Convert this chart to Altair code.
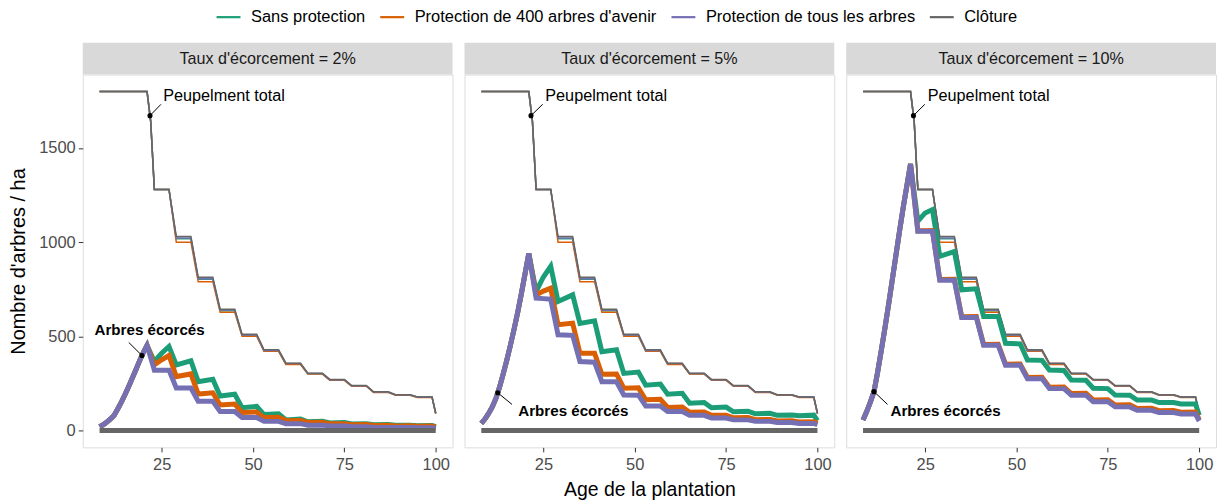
import altair as alt
import pandas as pd

# ---------------- data ----------------
SCENARIOS = ["Sans protection", "Protection de 400 arbres d'avenir",
             "Protection de tous les arbres", "Clôture"]
COLORS = ["#1B9E77", "#D95F02", "#7570B3", "#666666"]
FACETS = ["Taux d'écorcement = 2%", "Taux d'écorcement = 5%", "Taux d'écorcement = 10%"]

# total stand (thin lines), same in every panel
AGES_TOTAL = [8, 21, 22, 23, 27, 29, 33, 35, 39, 41, 45, 47, 51, 53, 57, 59, 63, 65,
              69, 71, 75, 77, 81, 83, 87, 89, 93, 95, 99, 100]
TOTAL_SANS = [1800, 1800, 1640, 1280, 1280, 1018, 1018, 803, 803, 636, 636, 505, 505, 423, 423,
              353, 353, 301, 301, 268, 268, 236, 236, 203, 203, 188, 188, 176, 176, 90]
TOTAL_400 = [1800, 1800, 1640, 1280, 1280, 1000, 1000, 790, 790, 628, 628, 500, 500, 420, 420,
             350, 350, 299, 299, 266, 266, 235, 235, 202, 202, 187, 187, 175, 175, 88]
TOTAL_TOUS = [1800, 1800, 1640, 1280, 1280, 1022, 1022, 806, 806, 639, 639, 507, 507, 425, 425,
              355, 355, 302, 302, 269, 269, 237, 237, 204, 204, 189, 189, 177, 177, 91]
TOTAL_CLOTURE = [1800, 1800, 1640, 1280, 1280, 1030, 1030, 813, 813, 644, 644, 511, 511, 428, 428,
                 357, 357, 304, 304, 271, 271, 238, 238, 205, 205, 190, 190, 178, 178, 92]

# debarked trees (thick lines)
AGES_GROWTH = [8, 9, 10, 11, 12, 13, 14, 15, 16, 17, 18, 19, 20, 21]
GROWTH_2 = [20, 30, 44, 61, 81, 115, 152, 192, 235, 280, 325, 372, 415, 452]
GROWTH_5 = [37, 60, 90, 125, 170, 230, 300, 375, 455, 540, 630, 730, 835, 940]
GROWTH_10 = [55, 100, 150, 206, 310, 425, 545, 670, 800, 930, 1060, 1185, 1300, 1415]

AGES_AFTER = [23, 25, 27, 29, 33, 35, 39, 41, 45, 47, 51, 53, 57, 59, 63, 65, 69, 71,
              75, 77, 81, 83, 87, 89, 93, 95, 99, 100]
SANS_2 = [366, 410, 446, 348, 370, 259, 272, 183, 192, 121, 128, 84, 88, 56, 60, 46, 49, 40,
          42, 34, 36, 30, 31, 27, 28, 25, 26, 20]
P400_2 = [348, 375, 398, 286, 300, 193, 200, 135, 140, 95, 98, 68, 70, 52, 53, 42, 43, 35,
          36, 30, 31, 26, 27, 24, 25, 22, 23, 16]
TOUS_2 = [320, 320, 320, 225, 225, 155, 155, 100, 100, 68, 68, 48, 48, 36, 36, 28, 28, 23,
          23, 19, 19, 16, 16, 15, 15, 14, 14, 10]
SANS_5 = [738, 815, 872, 685, 720, 568, 582, 418, 428, 303, 310, 240, 246, 192, 197, 144, 148, 120,
          124, 99, 102, 88, 91, 80, 82, 78, 81, 52]
P400_5 = [720, 740, 756, 561, 570, 410, 410, 298, 300, 224, 226, 163, 165, 122, 124, 96, 98, 80,
          81, 67, 68, 57, 58, 50, 51, 45, 46, 38]
TOUS_5 = [703, 700, 697, 508, 505, 366, 362, 259, 258, 188, 187, 130, 130, 100, 100, 80, 80, 66,
          66, 56, 56, 48, 48, 42, 42, 37, 37, 30]
SANS_10 = [1111, 1155, 1173, 925, 950, 747, 752, 605, 605, 463, 460, 374, 372, 321, 318, 268, 266, 224,
           222, 188, 187, 161, 161, 148, 148, 140, 140, 81]
P400_10 = [1060, 1061, 1062, 802, 803, 604, 605, 457, 458, 352, 353, 281, 282, 229, 230, 196, 197, 162,
           163, 135, 136, 117, 118, 105, 106, 97, 98, 58]
TOUS_10 = [1058, 1058, 1058, 798, 798, 600, 600, 452, 452, 346, 346, 274, 274, 222, 222, 187, 187, 152,
           152, 125, 125, 107, 107, 95, 95, 87, 87, 50]
AGES_CLOTURE_ECORCES = [8, 100]
CLOTURE_ECORCES = [0, 0]

GROWTH = [GROWTH_2, GROWTH_5, GROWTH_10]
AFTER = [[SANS_2, P400_2, TOUS_2], [SANS_5, P400_5, TOUS_5], [SANS_10, P400_10, TOUS_10]]
TOTALS = [TOTAL_SANS, TOTAL_400, TOTAL_TOUS, TOTAL_CLOTURE]

# annotations
LABEL_PEUP = "Peupelment total"
LABEL_ECOR = "Arbres écorcés"
PEUP_POINT_X = [21.8, 21.6, 21.8]
PEUP_POINT_Y = [1672, 1672, 1672]
PEUP_SEG_X2 = [24.8, 24.8, 24.9]
PEUP_SEG_Y2 = [1732, 1732, 1732]
PEUP_TEXT_X = [25.4, 25.5, 25.7]
PEUP_TEXT_Y = [1777, 1777, 1777]
ECOR_POINT_X = [19.6, 12.5, 11.0]
ECOR_POINT_Y = [398, 200, 206]
ECOR_SEG_X2 = [16.0, 16.4, 14.7]
ECOR_SEG_Y2 = [467, 138, 138]
ECOR_TEXT_X = [21.7, 33.2, 30.6]
ECOR_TEXT_Y = [534, 105, 105]

# ---------------- chart ----------------
W, H = 371, 374
FONT = "Liberation Sans"
xscale = alt.Scale(domain=[3.4, 104.6], nice=False, zero=False)
yscale = alt.Scale(domain=[-90, 1890], nice=False, zero=False)
cscale = alt.Scale(domain=SCENARIOS, range=COLORS)
legend = alt.Legend(orient="none", legendX=138, legendY=-66, direction="horizontal",
                    columns=4, title=None, symbolType="M-2,0H2", symbolSize=144,
                    symbolStrokeWidth=2.2, labelFontSize=16.5, labelFont=FONT,
                    labelColor="#000000", labelOffset=14.3, columnPadding=9.2,
                    labelLimit=400, padding=0)


def panel(i):
    tot_rows = []
    for s, vals in zip(SCENARIOS, TOTALS):
        for a, v in zip(AGES_TOTAL, vals):
            tot_rows.append({"age": a, "n": v, "scenario": s})
    tot = pd.DataFrame(tot_rows)

    deb_rows = []
    for s, vals in zip(SCENARIOS[:3], AFTER[i]):
        for a, v in zip(AGES_GROWTH + AGES_AFTER, GROWTH[i] + vals):
            deb_rows.append({"age": a, "n": v, "scenario": s})
    for a, v in zip(AGES_CLOTURE_ECORCES, CLOTURE_ECORCES):
        deb_rows.append({"age": a, "n": v, "scenario": SCENARIOS[3]})
    deb = pd.DataFrame(deb_rows)

    if i == 0:
        yaxis = alt.Axis(values=[0, 500, 1000, 1500], format="d", title="Nombre d'arbres / ha",
                         grid=False, domain=False, tickSize=4.5, tickColor="#333333",
                         labelFontSize=16.5, labelColor="#4D4D4D", labelFont=FONT, labelPadding=3,
                         titleFontSize=20, titleFont=FONT, titleFontWeight="normal",
                         titleColor="#000000", titlePadding=10)
    else:
        yaxis = None
    xaxis = alt.Axis(values=[25, 50, 75, 100], title="Age de la plantation" if i == 1 else None,
                     grid=False, domain=False, tickSize=4.5, tickColor="#333333",
                     labelFontSize=16.5, labelColor="#4D4D4D", labelFont=FONT, labelPadding=4.5,
                     titleFontSize=19.5, titleFont=FONT, titleFontWeight="normal",
                     titleColor="#000000", titlePadding=7.5)

    color = alt.Color("scenario:N", scale=cscale, legend=legend, sort=SCENARIOS)
    thin = alt.Chart(tot).mark_line(strokeWidth=1.5).encode(
        x=alt.X("age:Q", scale=xscale, axis=xaxis),
        y=alt.Y("n:Q", scale=yscale, axis=yaxis),
        color=color, detail="scenario:N")
    thick = alt.Chart(deb).mark_line(strokeWidth=5).encode(
        x=alt.X("age:Q", scale=xscale),
        y=alt.Y("n:Q", scale=yscale),
        color=color, detail="scenario:N")

    ann = pd.DataFrame({
        "px": [PEUP_POINT_X[i], ECOR_POINT_X[i]],
        "py": [PEUP_POINT_Y[i], ECOR_POINT_Y[i]],
        "sx": [PEUP_SEG_X2[i], ECOR_SEG_X2[i]],
        "sy": [PEUP_SEG_Y2[i], ECOR_SEG_Y2[i]],
        "tx": [PEUP_TEXT_X[i], ECOR_TEXT_X[i]],
        "ty": [PEUP_TEXT_Y[i], ECOR_TEXT_Y[i]],
        "label": [LABEL_PEUP, LABEL_ECOR],
    })
    seg = alt.Chart(ann).mark_rule(color="#000000", strokeWidth=1).encode(
        x=alt.X("px:Q", scale=xscale), y=alt.Y("py:Q", scale=yscale),
        x2="sx:Q", y2="sy:Q")
    pts = alt.Chart(ann).mark_circle(color="#000000", opacity=1, size=26).encode(
        x=alt.X("px:Q", scale=xscale), y=alt.Y("py:Q", scale=yscale))
    t1 = alt.Chart(ann.iloc[[0]]).mark_text(align="left", baseline="middle", fontSize=16.3,
                                            font=FONT, color="#000000").encode(
        x=alt.X("tx:Q", scale=xscale), y=alt.Y("ty:Q", scale=yscale), text="label:N")
    t2 = alt.Chart(ann.iloc[[1]]).mark_text(align="center", baseline="middle", fontSize=15.2,
                                            font=FONT, fontWeight="bold", color="#000000").encode(
        x=alt.X("tx:Q", scale=xscale), y=alt.Y("ty:Q", scale=yscale), text="label:N")

    strip_df = pd.DataFrame({"label": [FACETS[i]]})
    strip = alt.Chart(strip_df).mark_rect(fill="#D9D9D9", stroke=None).encode(
        x=alt.value(0), x2=alt.value(W), y=alt.value(-32), y2=alt.value(0))
    strip_txt = alt.Chart(strip_df).mark_text(fontSize=16.2, font=FONT, color="#1A1A1A",
                                              baseline="middle", align="center").encode(
        x=alt.value(W / 2), y=alt.value(-16), text="label:N")

    return alt.layer(strip, strip_txt, thin, thick, seg, pts, t1, t2).properties(width=W, height=H)


chart = alt.hconcat(panel(0), panel(1), panel(2), spacing=10).properties(
    padding={"left": 0, "top": 0, "right": 0, "bottom": 0}
).configure_view(stroke="#333333", strokeWidth=1).configure(font=FONT)

chart.save("out.html", embed_options={"renderer": "svg", "actions": False})
